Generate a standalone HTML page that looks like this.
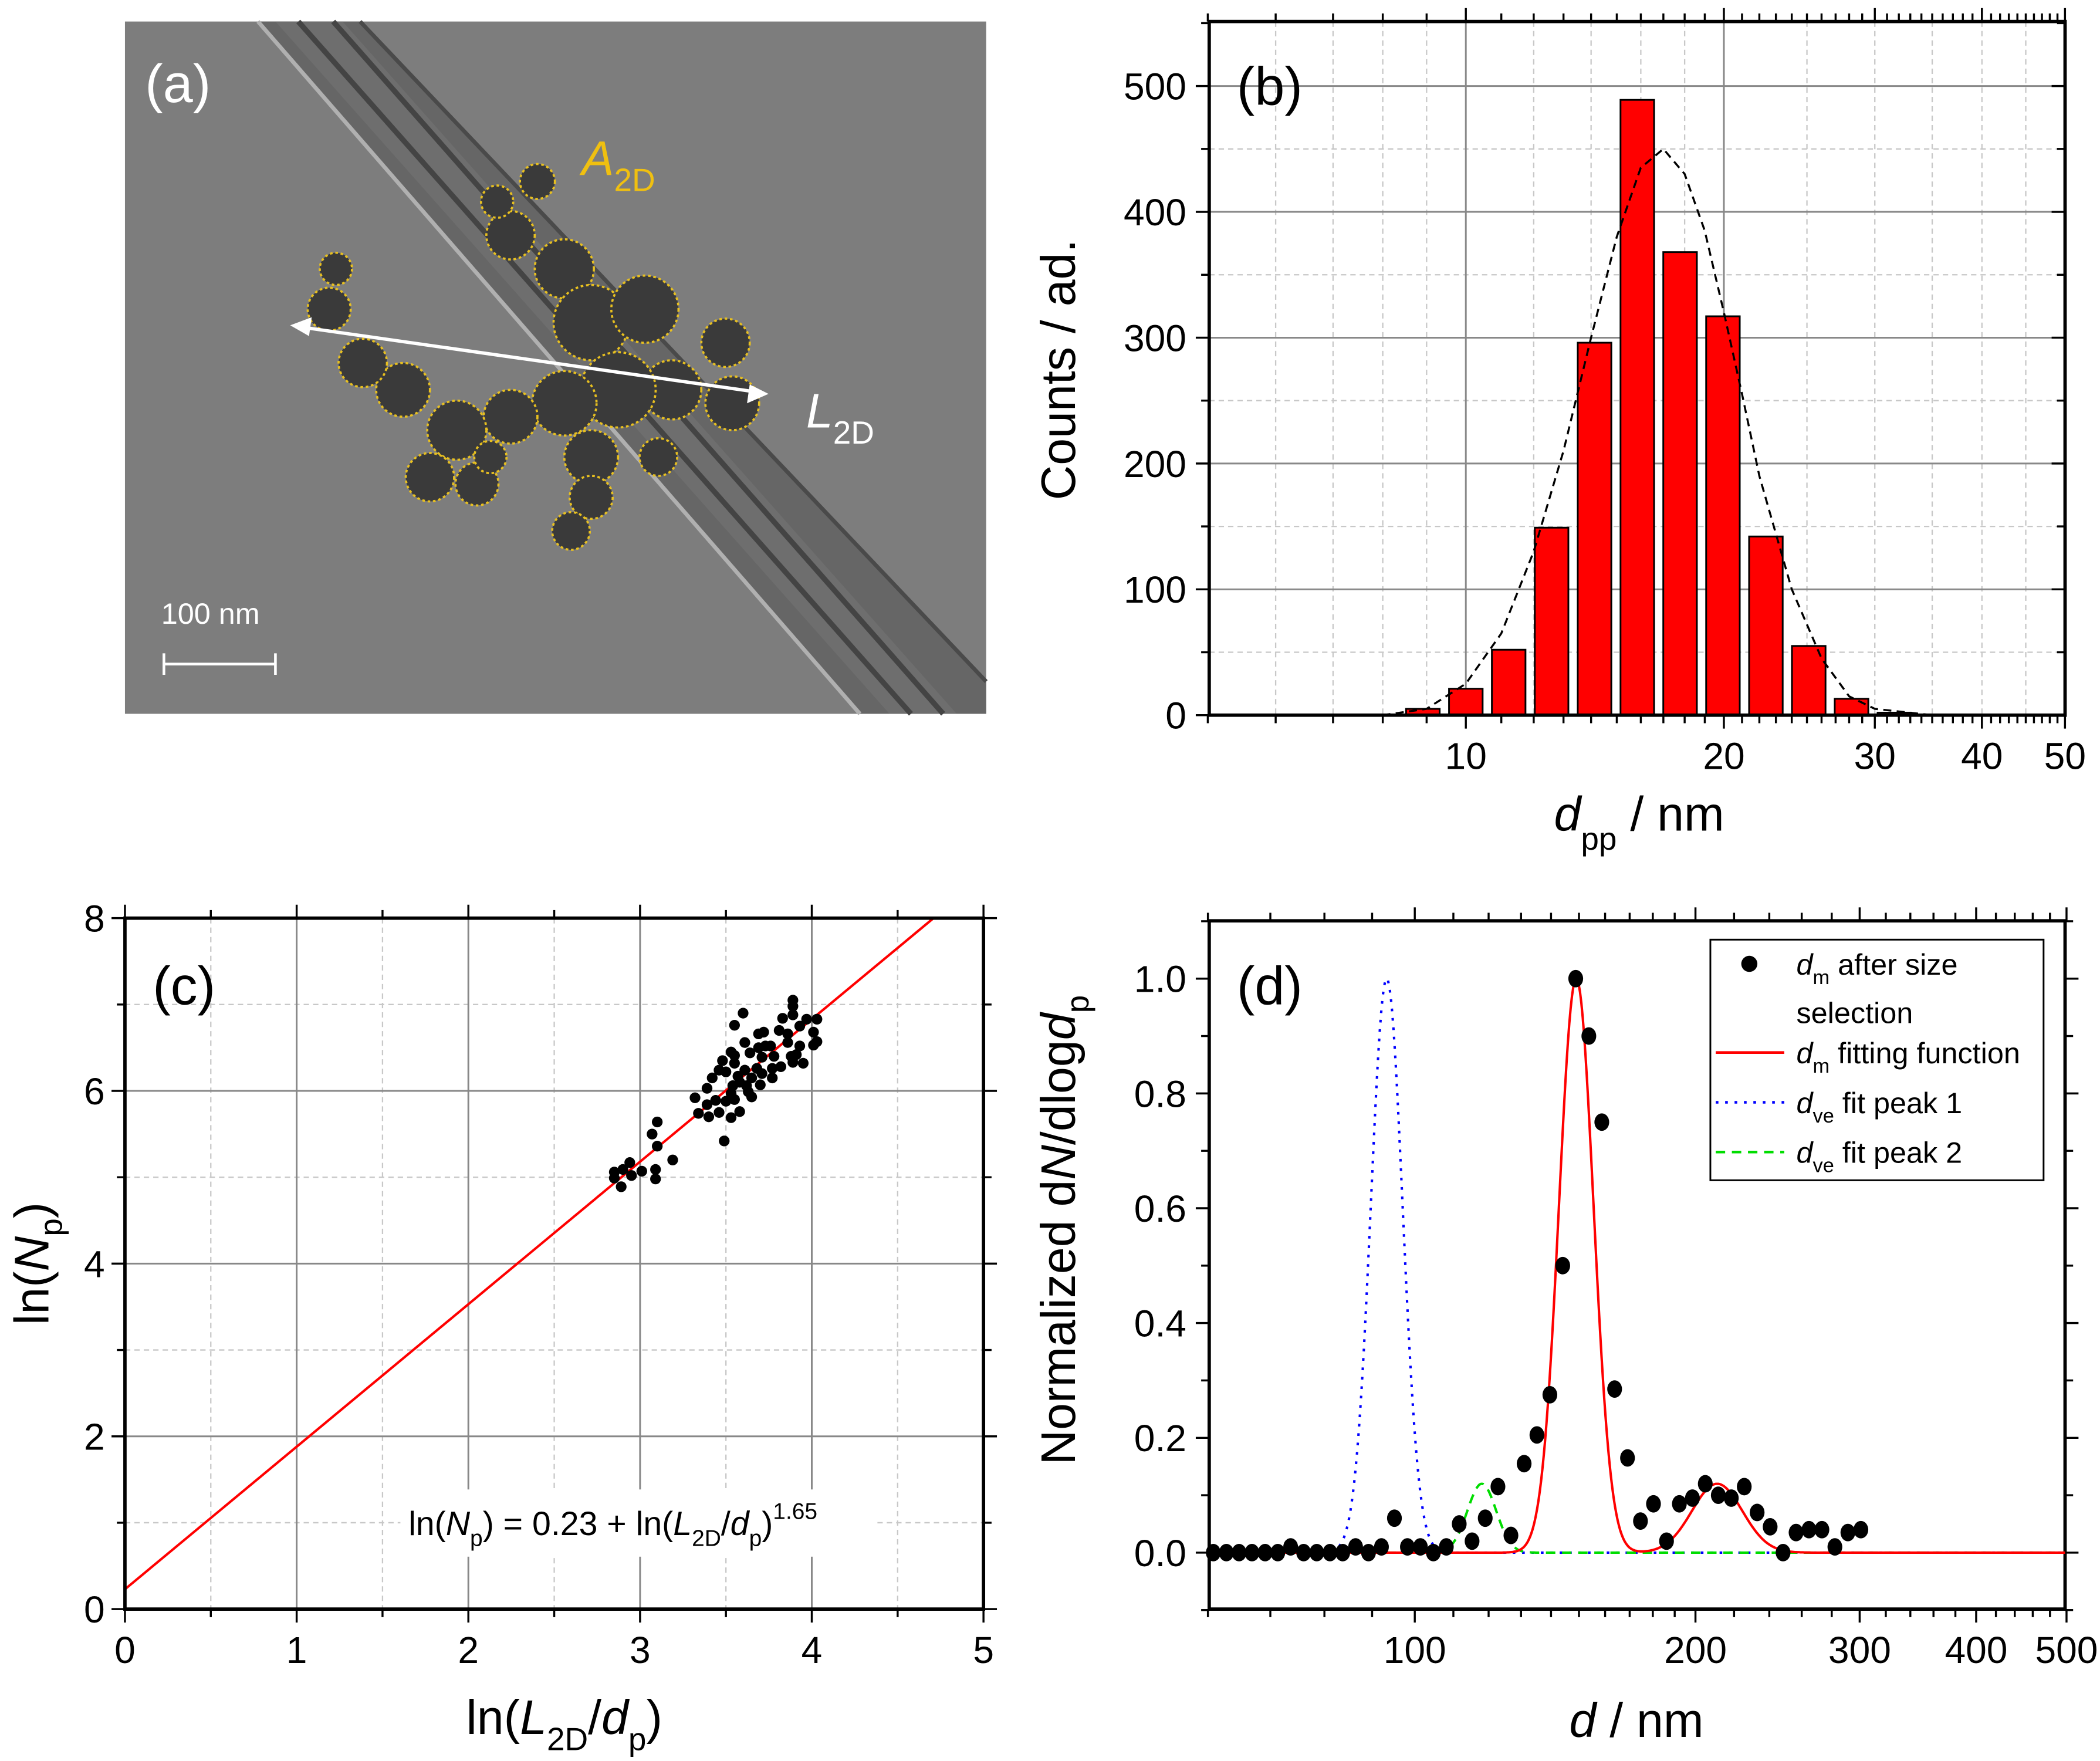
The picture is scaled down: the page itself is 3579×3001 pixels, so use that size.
<!DOCTYPE html>
<html><head><meta charset="utf-8"><style>
html,body{margin:0;padding:0;background:#fff;}
svg{display:block;font-family:"Liberation Sans",Arial,sans-serif;}
</style></head><body>
<svg id="fig" xmlns="http://www.w3.org/2000/svg" width="3579" height="3001" viewBox="0 0 1563 1310" preserveAspectRatio="none">
<rect width="1563" height="1310" fill="#fff"/>
<g id="pa">
  <rect x="93" y="16" width="641" height="515" fill="#7d7d7d"/>
  <polygon points="192,16 268,16 734,505 734,531 640,531" fill="#666"/>
  <polygon points="205,16 255,16 712,531 662,531" fill="#6e6e6e"/>
  <line x1="192" y1="16" x2="640" y2="531" stroke="#b0b0b0" stroke-width="3"/>
  <line x1="268" y1="16" x2="734" y2="507" stroke="#4a4a4a" stroke-width="3"/>
  <line x1="222" y1="16" x2="678" y2="531" stroke="#444" stroke-width="4"/>
  <line x1="248" y1="16" x2="702" y2="531" stroke="#444" stroke-width="4"/>
  <g fill="#3a3a3a" stroke="#e8c020" stroke-width="1.6" stroke-dasharray="2,2">
    <circle cx="400" cy="135" r="13"/><circle cx="380" cy="175" r="18"/><circle cx="420" cy="200" r="22"/>
    <circle cx="440" cy="240" r="28"/><circle cx="480" cy="230" r="25"/><circle cx="540" cy="255" r="18"/>
    <circle cx="545" cy="300" r="20"/><circle cx="500" cy="290" r="22"/><circle cx="460" cy="290" r="28"/>
    <circle cx="420" cy="300" r="24"/><circle cx="380" cy="310" r="20"/><circle cx="340" cy="320" r="22"/>
    <circle cx="300" cy="290" r="20"/><circle cx="270" cy="270" r="18"/><circle cx="245" cy="230" r="16"/>
    <circle cx="250" cy="200" r="12"/><circle cx="320" cy="355" r="18"/><circle cx="355" cy="360" r="16"/>
    <circle cx="440" cy="340" r="20"/><circle cx="490" cy="340" r="14"/><circle cx="440" cy="370" r="16"/>
    <circle cx="425" cy="395" r="14"/><circle cx="370" cy="150" r="12"/><circle cx="365" cy="340" r="12"/>
  </g>
  <line x1="222" y1="243" x2="566" y2="292" stroke="#fff" stroke-width="2.5"/>
  <polygon points="216,242 232,236 230,250" fill="#fff"/>
  <polygon points="572,293 556,300 558,286" fill="#fff"/>
  <text x="108" y="76" font-size="40" fill="#fff">(a)</text>
  <text x="433" y="130" font-size="36" fill="#f0c010" font-style="italic">A<tspan font-size="24" font-style="normal" dy="12">2D</tspan></text>
  <text x="600" y="318" font-size="36" fill="#fff" font-style="italic">L<tspan font-size="24" font-style="normal" dy="12">2D</tspan></text>
  <text x="120" y="464" font-size="22" fill="#fff">100 nm</text>
  <g stroke="#fff" stroke-width="2"><line x1="122" y1="494" x2="205" y2="494"/><line x1="122" y1="486" x2="122" y2="502"/><line x1="205" y1="486" x2="205" y2="502"/></g>
</g>
<g id="pb"></g>
<g id="pc"></g>
<g id="pd"></g>
</svg>
<script>
const NS='http://www.w3.org/2000/svg';
// ---- Panel b data ----
const binCenters=[8.91,10,11.22,12.59,14.13,15.85,17.78,19.95,22.39,25.12,28.18,31.62];
const binCounts=[5,21,52,149,296,489,368,317,142,55,13,2];
const fitB_x=[5,7,8,9,10,11,12,13,14,15,16,17,18,19,20,21,22,24,26,28,30,35,50];
const fitB_y=[0,0,0,5,25,65,130,210,300,380,435,450,430,385,320,255,190,100,45,15,5,0,0];
const yTicksB=[0,100,200,300,400,500];
const xTicksB=[10,20,30,40,50];
// ---- Panel c data ----
const lnL=[2.85,2.85,2.89,2.90,2.94,2.95,3.01,3.09,3.09,3.19,3.10,3.07,3.10,3.32,3.34,3.39,3.42,3.39,3.40,3.44,3.46,3.48,3.46,3.50,3.53,3.55,3.55,3.55,3.60,3.61,3.64,3.61,3.57,3.58,3.53,3.50,3.55,3.53,3.58,3.49,3.63,3.65,3.65,3.68,3.70,3.69,3.72,3.69,3.73,3.76,3.71,3.78,3.77,3.82,3.77,3.81,3.83,3.86,3.86,3.89,3.89,3.89,3.93,3.97,4.03,4.01,4.01,4.03,3.93,3.91,3.89,3.95,3.88,3.71,3.62,3.54];
const lnN=[5.06,4.99,4.89,5.09,5.17,5.02,5.07,5.09,4.98,5.20,5.36,5.50,5.64,5.92,5.74,6.03,6.15,5.84,5.70,5.89,5.75,6.35,6.24,6.22,6.45,6.41,6.32,6.76,6.90,6.56,6.44,6.24,6.17,6.10,5.97,5.88,5.90,5.69,5.76,5.42,5.99,5.93,6.15,6.26,6.07,6.66,6.68,6.50,6.52,6.52,6.39,6.40,6.15,6.28,6.26,6.70,6.84,6.66,6.56,7.05,6.98,6.88,6.75,6.83,6.83,6.68,6.53,6.57,6.52,6.42,6.33,6.32,6.40,6.20,6.06,6.06];
const fitC=[0.23,1.65]; // intercept, slope
const xTicksC=[0,1,2,3,4,5];
const yTicksC=[0,2,4,6,8];
// ---- Panel d data ----
const dm=[60.8,62.8,64.8,66.9,69.1,71.3,73.6,76.0,78.5,81.1,83.7,86.4,89.2,92.1,95.1,98.2,101.4,104.7,108.1,111.6,115.2,119.0,122.8,126.8,131.0,135.2,139.6,144.1,148.8,153.7,158.7,163.8,169.1,174.6,180.3,186.2,192.2,198.5,204.9,211.6,218.5,225.6,232.9,240.5,248.3,256.4,264.7,273.3,282.2,291.4,300.9];
const dmVal=[0,0,0,0,0,0,0.01,0,0,0,0,0.01,0,0.01,0.06,0.01,0.01,0,0.01,0.05,0.02,0.06,0.115,0.03,0.155,0.205,0.275,0.5,1.0,0.9,0.75,0.285,0.165,0.055,0.085,0.02,0.085,0.095,0.12,0.1,0.095,0.115,0.07,0.045,0,0.035,0.04,0.04,0.01,0.035,0.04];
const redAmp=[1.0,0.12], redCen=[149,211], redSig=[0.0185,0.027];
const bluePeak=[1.0,93.3,0.017];
const greenPeak=[0.12,118,0.0155];
const yTicksD=[0,0.2,0.4,0.6,0.8,1.0];
const xTicksD=[100,200,300,400,500];

function mk(tag,parent,attrs){const e=document.createElementNS(NS,tag);for(const k in attrs)e.setAttribute(k,attrs[k]);parent.appendChild(e);return e;}
function txt(parent,x,y,s,size,anchor,extra){const t=mk('text',parent,Object.assign({x:x,y:y,'font-size':size,'text-anchor':anchor||'middle',fill:'#000'},extra||{}));t.textContent=s;return t;}

// ===== Panel b =====
(function(){
const g=document.getElementById('pb');
const L=900,R=1537,T=16,B=532;
const X=d=>1091+638*Math.log10(d/10);
const Y=v=>B-v*0.936;
for(const m of [6,7,8,9,12,14,16,18,25,30,35,40,45,50]){const l=mk('line',g,{x1:X(m),x2:X(m),y1:T,y2:B,stroke:'#c8c8c8','stroke-width':1,'stroke-dasharray':'4,3'});

}
for(const v of [50,150,250,350,450]){const l=mk('line',g,{x1:L,x2:R,y1:Y(v),y2:Y(v),stroke:'#c8c8c8','stroke-width':1,'stroke-dasharray':'4,3'});

}
for(const v of xTicksB.slice(0,2)){const l=mk('line',g,{x1:X(v),x2:X(v),y1:T,y2:B,stroke:'#888','stroke-width':1.3});

}
for(const v of yTicksB.slice(1)){const l=mk('line',g,{x1:L,x2:R,y1:Y(v),y2:Y(v),stroke:'#888','stroke-width':1.3});

}
binCenters.forEach((c,i)=>{const x0=X(c)-12.5;const r=mk('rect',g,{x:x0,y:Y(binCounts[i]),width:25,height:B-Y(binCounts[i]),fill:'#ff0000',stroke:'#000','stroke-width':1.3});

});
const p=mk('path',g,{d:fitB_x.map((x,i)=>(i?'L':'M')+X(x).toFixed(1)+','+Y(fitB_y[i]).toFixed(1)).join(''),fill:'none',stroke:'#000','stroke-width':1.5,'stroke-dasharray':'6,4'});


const f=mk('rect',g,{x:L,y:T,width:R-L,height:B-T,fill:'none',stroke:'#000','stroke-width':2.5});


for(let d=5;d<=50;d+=1){const major=xTicksB.includes(d);const len=major?10:6;
for(const [y0,s] of [[B,1],[T,-1]]){const l=mk('line',g,{x1:X(d),x2:X(d),y1:y0,y2:y0+s*len,stroke:'#000','stroke-width':1.5});

}}
for(let v=0;v<=550;v+=50){const major=v%100===0;const len=major?10:6;
for(const x0 of [L,R]){const l=mk('line',g,{x1:x0,x2:x0-len,y1:Y(v),y2:Y(v),stroke:'#000','stroke-width':1.5});

}}
yTicksB.forEach(v=>{const t=txt(g,883,Y(v)+10,String(v),28,'end');

});
xTicksB.forEach(v=>{const t=txt(g,X(v),572,String(v),28,'middle');

});
const yl=txt(g,0,0,'Counts / ad.',36,'middle',{transform:'translate(800,275) rotate(-90)'});


const xl=mk('text',g,{x:1220,y:618,'font-size':36,'text-anchor':'middle'});
xl.innerHTML='<tspan font-style="italic">d</tspan><tspan font-size="24" dy="14">pp</tspan><tspan dy="-14"> / nm</tspan>';


const pl=txt(g,945,78,'(b)',40,'middle');


})();

// ===== Panel c =====
(function(){
const g=document.getElementById('pc');
const L=93,R=732,T=683,B=1197;
const X=v=>L+v*127.8;
const Y=v=>B-v*64.25;
for(let v=0.5;v<5;v+=1){const l=mk('line',g,{x1:X(v),x2:X(v),y1:T,y2:B,stroke:'#c8c8c8','stroke-width':1,'stroke-dasharray':'4,3'});

}
for(let v=1;v<8;v+=2){const l=mk('line',g,{x1:L,x2:R,y1:Y(v),y2:Y(v),stroke:'#c8c8c8','stroke-width':1,'stroke-dasharray':'4,3'});

}
for(const v of [1,2,3,4]){const l=mk('line',g,{x1:X(v),x2:X(v),y1:T,y2:B,stroke:'#888','stroke-width':1.3});

}
for(const v of [2,4,6]){const l=mk('line',g,{x1:L,x2:R,y1:Y(v),y2:Y(v),stroke:'#888','stroke-width':1.3});

}
const xEnd=(8-fitC[0])/fitC[1];
const fl=mk('line',g,{x1:X(0),y1:Y(fitC[0]),x2:X(xEnd),y2:Y(8),stroke:'#ff0000','stroke-width':1.8});


lnL.forEach((x,i)=>{const c=mk('circle',g,{cx:X(x),cy:Y(lnN[i]),r:4,fill:'#000'});

});
const f=mk('rect',g,{x:L,y:T,width:R-L,height:B-T,fill:'none',stroke:'#000','stroke-width':2.5});


for(let v=0;v<=5.001;v+=0.5){const len=(Math.abs(v-Math.round(v))<0.01)?10:6;
for(const y0 of [B,T]){const l=mk('line',g,{x1:X(v),x2:X(v),y1:y0,y2:y0+(y0===B?len:-len),stroke:'#000','stroke-width':1.5});

}}
for(let v=0;v<=8;v+=1){const len=v%2===0?10:6;
for(const x0 of [L,R]){const l=mk('line',g,{x1:x0,x2:x0+(x0===L?-len:len),y1:Y(v),y2:Y(v),stroke:'#000','stroke-width':1.5});

}}
yTicksC.forEach(v=>{const t=txt(g,78,Y(v)+10,String(v),28,'end');

});
xTicksC.forEach(v=>{const t=txt(g,X(v),1237,String(v),28,'middle');

});
const bg=mk('rect',g,{x:298,y:1108,width:355,height:50,fill:'#fff'});


const eq=mk('text',g,{x:304,y:1142,'font-size':25});
eq.innerHTML='ln(<tspan font-style="italic">N</tspan><tspan font-size="17" dy="8">p</tspan><tspan dy="-8">) = 0.23 + ln(</tspan><tspan font-style="italic">L</tspan><tspan font-size="17" dy="8">2D</tspan><tspan dy="-8">/</tspan><tspan font-style="italic">d</tspan><tspan font-size="17" dy="8">p</tspan><tspan dy="-8">)</tspan><tspan font-size="17" dy="-12">1.65</tspan>';


const yl=mk('text',g,{'font-size':36,'text-anchor':'middle',transform:'translate(36,940) rotate(-90)'});
yl.innerHTML='ln(<tspan font-style="italic">N</tspan><tspan font-size="24" dy="10">p</tspan><tspan dy="-10">)</tspan>';


const xl=mk('text',g,{x:420,y:1290,'font-size':36,'text-anchor':'middle'});
xl.innerHTML='ln(<tspan font-style="italic">L</tspan><tspan font-size="24" dy="12">2D</tspan><tspan dy="-12">/</tspan><tspan font-style="italic">d</tspan><tspan font-size="24" dy="12">p</tspan><tspan dy="-12">)</tspan>';


const pl=txt(g,137,747,'(c)',40,'middle');


})();

// ===== Panel d =====
(function(){
const g=document.getElementById('pd');
const L=900,R=1537,T=685,B=1197;
const X=d=>1053+694*Math.log10(d/100);
const Y=v=>1155-v*427;
const gauss=(a,c,s,d)=>a*Math.exp(-0.5*Math.pow(Math.log10(d/c)/s,2));
const f=mk('rect',g,{x:L,y:T,width:R-L,height:B-T,fill:'none',stroke:'#000','stroke-width':2.5});


function curve(fn,attrs,name){let pts=[];for(let x=L;x<=R;x+=1){const d=100*Math.pow(10,(x-1053)/694);pts.push(x+','+Y(fn(d)).toFixed(1));}
const p=mk('path',g,Object.assign({d:'M'+pts.join('L'),fill:'none'},attrs));

}
curve(d=>gauss(bluePeak[0],bluePeak[1],bluePeak[2],d),{stroke:'#0000ff','stroke-width':1.8,'stroke-dasharray':'2,5'},'ve-fit-peak-1');
curve(d=>gauss(greenPeak[0],greenPeak[1],greenPeak[2],d),{stroke:'#00dd00','stroke-width':1.8,'stroke-dasharray':'7,5'},'ve-fit-peak-2');
curve(d=>gauss(redAmp[0],redCen[0],redSig[0],d)+gauss(redAmp[1],redCen[1],redSig[1],d),{stroke:'#ff0000','stroke-width':1.8},'dm-fitting-function');
dm.forEach((d,i)=>{const c=mk('ellipse',g,{cx:X(d),cy:Y(dmVal[i]),rx:5.5,ry:6.5,fill:'#000'});

});
for(const d of [60,70,80,90,100,110,120,130,140,150,160,170,180,190,200,220,240,260,280,300,320,340,360,380,400,420,440,460,480,500]){const major=xTicksD.includes(d);const len=major?10:6;
for(const y0 of [B,T]){const l=mk('line',g,{x1:X(d),x2:X(d),y1:y0,y2:y0+(y0===B?len:-len),stroke:'#000','stroke-width':1.5});

}}
for(let k=-1;k<=11;k++){const v=k/10;const len=(k%2===0)?10:6;
for(const x0 of [L,R]){const l=mk('line',g,{x1:x0,x2:x0+(x0===L?-len:len),y1:Y(v),y2:Y(v),stroke:'#000','stroke-width':1.5});

}}
yTicksD.forEach(v=>{const t=txt(g,883,Y(v)+10,v.toFixed(1),28,'end');

});
xTicksD.forEach(v=>{const t=txt(g,X(v),1237,String(v),28,'middle');

});
const lg=mk('g',g,{});


mk('rect',lg,{x:1273,y:699,width:248,height:179,fill:'#fff',stroke:'#000','stroke-width':1.3});
mk('circle',lg,{cx:1302,cy:717,r:6,fill:'#000'});
const rows=[[717,'dm','after size'],[783,'dm','fitting function'],[820,'dve','fit peak 1'],[857,'dve','fit peak 2']];
mk('line',lg,{x1:1277,x2:1328,y1:783,y2:783,stroke:'#ff0000','stroke-width':2});
mk('line',lg,{x1:1277,x2:1328,y1:820,y2:820,stroke:'#0000ff','stroke-width':2,'stroke-dasharray':'2,5'});
mk('line',lg,{x1:1277,x2:1328,y1:857,y2:857,stroke:'#00dd00','stroke-width':2,'stroke-dasharray':'7,5'});
rows.forEach(r=>{const t=mk('text',lg,{x:1337,y:r[0]+8,'font-size':22});
const sub=r[1]==='dm'?'m':'ve';
t.innerHTML='<tspan font-style="italic">d</tspan><tspan font-size="15" dy="7">'+sub+'</tspan><tspan dy="-7"> '+r[2]+'</tspan>';

});
const t2=txt(lg,1337,761,'selection',22,'start');


const yl=mk('text',g,{'font-size':36,'text-anchor':'middle',transform:'translate(800,915) rotate(-90)'});
yl.innerHTML='Normalized d<tspan font-style="italic">N</tspan>/dlog<tspan font-style="italic">d</tspan><tspan font-size="24" dy="10">p</tspan>';


const xl=mk('text',g,{x:1218,y:1292,'font-size':36,'text-anchor':'middle'});
xl.innerHTML='<tspan font-style="italic">d</tspan> / nm';


const pl=txt(g,945,747,'(d)',40,'middle');


})();
</script>
</body></html>
